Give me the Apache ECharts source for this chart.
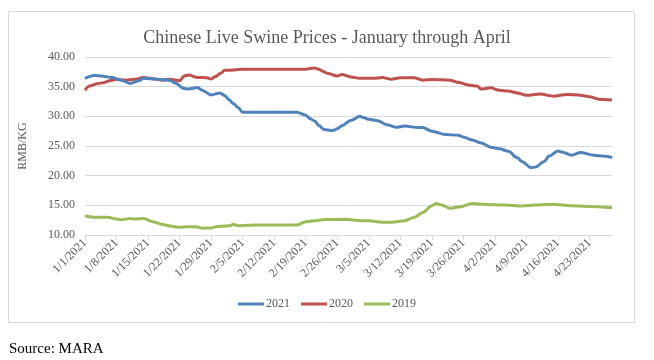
<!DOCTYPE html>
<html>
<head>
<meta charset="utf-8">
<script src="https://cdn.jsdelivr.net/npm/echarts@6/dist/echarts.min.js"></script>
<style>
html,body{margin:0;padding:0;background:#fff;}
#chart{width:654px;height:360px;}
</style>
</head>
<body>
<div id="chart"></div>
<script>
// x-axis categories: every day from 1/1 to 4/28 (tick labels every 7 days)
const monthLengths = [31, 28, 31, 28];
const categories = [];
for (let m = 0; m < monthLengths.length; m++) {
  for (let d = 1; d <= monthLengths[m]; d++) categories.push((m + 1) + '/' + d + '/2021');
}

const seriesNames = ['2021', '2020', '2019'];

const dates2021 = ['1/1','1/3','1/5','1/7','1/9','1/11','1/13','1/14','1/17','1/20','1/21','1/23','1/24','1/26','1/27','1/29','1/31','2/1','2/2','2/3','2/4','2/5','2/17','2/19','2/20','2/21','2/22','2/23','2/25','2/26','2/27','3/1','3/3','3/4','3/5','3/7','3/9','3/11','3/13','3/16','3/17','3/19','3/22','3/25','3/26','3/28','3/30','4/1','4/3','4/5','4/7','4/8','4/10','4/11','4/13','4/14','4/16','4/17','4/19','4/21','4/24','4/26','4/28'];
const values2021 = [36.4,36.9,36.75,36.55,36.1,35.55,36.0,36.4,36.25,36.05,35.6,34.7,34.6,34.85,34.4,33.6,33.95,33.5,32.8,32.1,31.5,30.7,30.7,30.2,29.6,29.2,28.4,27.8,27.6,27.9,28.4,29.3,30.0,29.75,29.5,29.25,28.6,28.15,28.35,28.1,28.1,27.5,26.95,26.8,26.5,26.0,25.5,24.8,24.55,24.1,23.0,22.4,21.35,21.45,22.4,23.3,24.15,23.95,23.45,23.9,23.45,23.3,23.05];

const dates2020 = ['1/1','1/2','1/4','1/5','1/7','1/8','1/10','1/12','1/14','1/16','1/18','1/20','1/22','1/23','1/24','1/26','1/28','1/29','1/30','1/31','2/1','2/3','2/5','2/19','2/21','2/22','2/23','2/24','2/26','2/27','3/1','3/3','3/6','3/8','3/10','3/12','3/15','3/17','3/19','3/23','3/25','3/27','3/29','3/30','4/1','4/3','4/5','4/7','4/9','4/12','4/15','4/18','4/21','4/23','4/25','4/28'];
const values2020 = [34.4,35.1,35.55,35.65,36.1,36.25,36.1,36.25,36.55,36.35,36.1,36.25,36.0,36.8,36.95,36.55,36.5,36.3,36.7,37.2,37.75,37.8,37.95,37.95,38.15,37.9,37.5,37.2,36.8,37.05,36.65,36.4,36.4,36.55,36.25,36.5,36.5,36.1,36.2,36.1,35.7,35.3,35.1,34.6,34.8,34.4,34.25,33.95,33.55,33.75,33.4,33.7,33.55,33.3,32.9,32.75];

const dates2019 = ['1/1','1/3','1/6','1/8','1/9','1/11','1/12','1/14','1/16','1/18','1/20','1/22','1/24','1/26','1/27','1/29','1/30','2/2','2/3','2/4','2/8','2/17','2/19','2/21','2/23','2/28','3/3','3/5','3/8','3/10','3/13','3/15','3/17','3/19','3/20','3/21','3/23','3/25','3/28','3/31','4/4','4/8','4/11','4/15','4/19','4/23','4/28'];
const values2019 = [13.25,13.0,13.0,12.7,12.55,12.8,12.7,12.8,12.25,11.8,11.5,11.3,11.4,11.35,11.15,11.2,11.4,11.55,11.8,11.57,11.68,11.68,12.25,12.4,12.6,12.64,12.4,12.4,12.13,12.13,12.4,12.95,13.8,14.95,15.3,15.1,14.5,14.7,15.3,15.15,15.05,14.9,15.05,15.2,14.95,14.8,14.6];

const colors = ['#4F81BD', '#C0504D', '#9BBB59'];

function toPoints(dates, values) {
  return dates.map((d, i) => [categories.indexOf(d + '/2021'), values[i]]);
}

const seriesData = [
  toPoints(dates2021, values2021),
  toPoints(dates2020, values2020),
  toPoints(dates2019, values2019)
];

const font = "'Liberation Serif', 'Times New Roman', serif";
const chart = echarts.init(document.getElementById('chart'));
chart.setOption({
  animation: false,
  backgroundColor: '#fff',
  title: {
    text: 'Chinese Live Swine Prices - January through April',
    left: 'center',
    top: 24,
    textStyle: { fontFamily: font, fontSize: 18, fontWeight: 'normal', color: '#595959' }
  },
  legend: {
    bottom: 45,
    left: 'center',
    icon: 'rect',
    itemWidth: 26,
    itemHeight: 3,
    itemGap: 11,
    textStyle: { fontFamily: font, fontSize: 12, color: '#595959', padding: [0, 0, 0, -3] },
    data: seriesNames
  },
  grid: { left: 85, right: 42, top: 57, bottom: 125, containLabel: false },
  xAxis: {
    type: 'category',
    data: categories,
    boundaryGap: false,
    axisLine: { lineStyle: { color: '#d9d9d9', width: 1 } },
    axisTick: { interval: 6, length: 5, lineStyle: { color: '#d9d9d9' } },
    axisLabel: { interval: 6, rotate: 45, margin: 6, fontFamily: font, fontSize: 12, color: '#595959' },
    splitLine: { show: false }
  },
  yAxis: {
    type: 'value',
    min: 10,
    max: 40,
    interval: 5,
    name: 'RMB/KG',
    nameLocation: 'middle',
    nameGap: 56,
    nameTextStyle: { fontFamily: font, fontSize: 12, color: '#595959' },
    axisLine: { show: false },
    axisTick: { show: false },
    axisLabel: { margin: 10, fontFamily: font, fontSize: 12, color: '#595959', formatter: v => v.toFixed(2) },
    splitLine: { lineStyle: { color: '#d9d9d9', width: 1 } }
  },
  series: seriesNames.map((name, i) => ({
    name: name,
    type: 'line',
    data: seriesData[i],
    smooth: 0.3,
    smoothMonotone: 'x',
    showSymbol: false,
    symbol: 'none',
    lineStyle: { color: colors[i], width: 3 },
    itemStyle: { color: colors[i] },
    z: 3 - i
  })),
  graphic: [
    {
      type: 'rect',
      shape: { x: 8.5, y: 11.5, width: 626, height: 311 },
      style: { fill: 'none', stroke: '#d9d9d9', lineWidth: 1 },
      silent: true
    },
    {
      type: 'text',
      left: 9,
      top: 342,
      style: { text: 'Source: MARA', fontFamily: font, fontSize: 15, fill: '#000' }
    }
  ]
});
</script>
</body>
</html>
